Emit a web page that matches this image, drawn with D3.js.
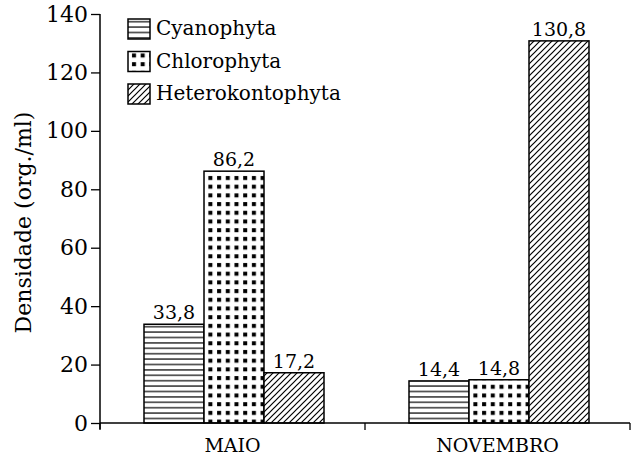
<!DOCTYPE html>
<html><head><meta charset="utf-8">
<script src="https://cdn.jsdelivr.net/npm/d3@7"></script>
<style>
html,body{margin:0;padding:0;background:#fff;}
svg text{font-family:"DejaVu Serif";fill:#000;}
</style></head>
<body>
<svg id="chart" width="631" height="459" font-family="DejaVu Serif"></svg>
<script>
const categories = ["MAIO", "NOVEMBRO"];
const seriesNames = ["Cyanophyta", "Chlorophyta", "Heterokontophyta"];
const cyanophyta = [33.8, 14.4];
const chlorophyta = [86.2, 14.8];
const heterokontophyta = [17.2, 130.8];
const yTicks = [0, 20, 40, 60, 80, 100, 120, 140];
const yTitle = "Densidade (org./ml)";

const seriesValues = [cyanophyta, chlorophyta, heterokontophyta];
const patterns = ["pat-h", "pat-dot", "pat-diag"];
const FONT = "DejaVu Serif";

const svg = d3.select("#chart");
const mLeft = 100, mRight = 630, mTop = 14, mBottom = 423;

const defs = svg.append("defs");
// horizontal lines
const ph = defs.append("pattern").attr("id","pat-h").attr("patternUnits","userSpaceOnUse")
  .attr("width",10).attr("height",5.4);
ph.append("rect").attr("width",10).attr("height",5.4).attr("fill","#fff");
ph.append("line").attr("x1",0).attr("x2",10).attr("y1",2.7).attr("y2",2.7).attr("stroke","#000").attr("stroke-width",1.2);
// dots
const pd = defs.append("pattern").attr("id","pat-dot").attr("patternUnits","userSpaceOnUse")
  .attr("width",8.7).attr("height",8.7).attr("x",2).attr("y",0);
pd.append("rect").attr("width",8.7).attr("height",8.7).attr("fill","#fff");
pd.append("rect").attr("x",2).attr("y",2).attr("width",4).attr("height",4).attr("fill","#000");
// diagonal
const pg = defs.append("pattern").attr("id","pat-diag").attr("patternUnits","userSpaceOnUse")
  .attr("width",6).attr("height",6);
pg.append("rect").attr("width",6).attr("height",6).attr("fill","#fff");
pg.append("path").attr("d","M0,6 L6,0 M-1,1 L1,-1 M5,7 L7,5").attr("stroke","#000").attr("stroke-width",1.2);

const x0 = d3.scaleBand().domain(categories).range([mLeft, mRight]).padding(0);
const x1 = d3.scaleBand().domain(seriesNames).range([44, 224]);
const y = d3.scaleLinear().domain([0, 140]).range([mBottom, mTop]);

// bars
const groups = svg.append("g").selectAll("g").data(categories).join("g")
  .attr("transform", c => `translate(${x0(c)},0)`);
groups.each(function(c, ci) {
  const g = d3.select(this);
  seriesNames.forEach((s, si) => {
    const v = seriesValues[si][ci];
    g.append("rect")
      .attr("x", x1(s)).attr("y", y(v))
      .attr("width", x1.bandwidth()).attr("height", y(0) - y(v))
      .attr("fill", `url(#${patterns[si]})`)
      .attr("stroke", "#000").attr("stroke-width", 1.5);
    g.append("text")
      .attr("x", x1(s) + x1.bandwidth()/2).attr("y", y(v) - 5)
      .attr("text-anchor", "middle").attr("font-family", FONT).attr("font-size", 19)
      .text(String(v).replace(".", ","));
  });
});

// y axis
const yAxis = svg.append("g").attr("transform", `translate(${mLeft},0)`)
  .call(d3.axisLeft(y).tickValues(yTicks).tickSize(9).tickPadding(3).tickFormat(d3.format("d")));
yAxis.attr("font-family", FONT).attr("font-size", 22);
yAxis.select(".domain").attr("d", `M0,${mTop}V${mBottom + 6}`).attr("stroke","#000").attr("stroke-width",1.5);
yAxis.selectAll(".tick line").attr("stroke","#000").attr("stroke-width",1.3);
yAxis.selectAll(".tick text").attr("font-family", FONT).attr("font-size", 22);

// x axis
const xAxis = svg.append("g").attr("transform", `translate(0,${mBottom})`)
  .call(d3.axisBottom(x0).tickSize(0).tickPadding(16));
xAxis.attr("font-family", FONT).attr("font-size", 19);
xAxis.select(".domain").attr("d", `M${mLeft},0H${mRight}`).attr("stroke","#000").attr("stroke-width",1.5);
xAxis.selectAll(".tick text").attr("font-family", FONT).attr("font-size", 19);
const bounds = [x0(categories[0])].concat(categories.map(c => x0(c) + x0.bandwidth()));
xAxis.selectAll(".bound").data(bounds).join("line").attr("class","bound")
  .attr("x1", d => d).attr("x2", d => d).attr("y1", 0).attr("y2", 7)
  .attr("stroke","#000").attr("stroke-width",1.3);

// y title
svg.append("text").attr("transform", `translate(31,${(mTop+mBottom)/2 + 4}) rotate(-90)`)
  .attr("text-anchor","middle").attr("font-family", FONT).attr("font-size", 22).text(yTitle);

// legend
const legend = svg.append("g").attr("transform","translate(128,19)");
seriesNames.forEach((s, i) => {
  const row = legend.append("g").attr("transform", `translate(0,${i*32.5})`);
  row.append("rect").attr("width", 22).attr("height", 20)
    .attr("fill", `url(#${patterns[i]})`).attr("stroke","#000").attr("stroke-width",1.5);
  row.append("text").attr("x", 28).attr("y", 16).attr("font-family", FONT).attr("font-size", 20).text(s);
});
</script>
</body></html>
